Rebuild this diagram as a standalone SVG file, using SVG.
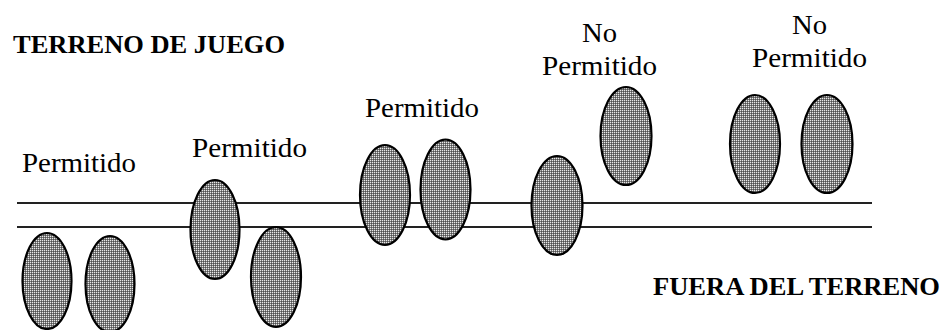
<svg xmlns="http://www.w3.org/2000/svg" width="946" height="330" viewBox="0 0 946 330">
<defs>
<pattern id="dots" width="2" height="2" patternUnits="userSpaceOnUse">
<rect width="2" height="2" fill="#7a7a7a"/>
<rect x="0" y="0" width="1" height="1" fill="#e8e8e8"/>
<rect x="1" y="1" width="1" height="1" fill="#505050"/>
</pattern>
</defs>
<style>
.p{fill:url(#dots);stroke:#000;stroke-width:2.2}
.ln{stroke:#222;stroke-width:2.2}
text{fill:#000;font-family:'Liberation Serif','Times New Roman',Tinos,'Nimbus Roman','FreeSerif','DejaVu Serif',serif}
.t{font-size:28px}
.b{font-size:26px;font-weight:bold}
</style>
<rect width="946" height="330" fill="#fff"/>
<g id="connectors">
<line class="ln" x1="17" y1="203" x2="872" y2="203"/>
<line class="ln" x1="17" y1="227" x2="872" y2="227"/>
</g>
<g id="labels">
<text class="b" x="13" y="53" textLength="272" lengthAdjust="spacingAndGlyphs">TERRENO DE JUEGO</text>
<text class="b" x="653" y="295" textLength="287" lengthAdjust="spacingAndGlyphs">FUERA DEL TERRENO</text>
<text class="t" x="22" y="172" textLength="114" lengthAdjust="spacingAndGlyphs">Permitido</text>
<text class="t" x="192" y="157" textLength="115" lengthAdjust="spacingAndGlyphs">Permitido</text>
<text class="t" x="365" y="117" textLength="114" lengthAdjust="spacingAndGlyphs">Permitido</text>
<text class="t" x="582" y="42" textLength="35" lengthAdjust="spacingAndGlyphs">No</text>
<text class="t" x="542" y="75" textLength="115" lengthAdjust="spacingAndGlyphs">Permitido</text>
<text class="t" x="792" y="34" textLength="35" lengthAdjust="spacingAndGlyphs">No</text>
<text class="t" x="752" y="67" textLength="115" lengthAdjust="spacingAndGlyphs">Permitido</text>
</g>
<g id="player1"><ellipse class="p" cx="47" cy="281" rx="24.5" ry="48"/></g>
<g id="player2"><ellipse class="p" cx="110" cy="284" rx="24.5" ry="48"/></g>
<g id="player3"><ellipse class="p" cx="215" cy="229.5" rx="24.5" ry="49.5"/></g>
<g id="player4"><ellipse class="p" cx="276" cy="277" rx="25" ry="50"/></g>
<g id="player5"><ellipse class="p" cx="385" cy="195" rx="25" ry="50"/></g>
<g id="player6"><ellipse class="p" cx="445.5" cy="189.5" rx="25" ry="50"/></g>
<g id="player7"><ellipse class="p" cx="557" cy="205.5" rx="25.5" ry="49.5"/></g>
<g id="player8"><ellipse class="p" cx="626" cy="136" rx="25.5" ry="49"/></g>
<g id="player9"><ellipse class="p" cx="755" cy="144" rx="25" ry="49"/></g>
<g id="player10"><ellipse class="p" cx="827" cy="144" rx="25.5" ry="49"/></g>
</svg>
